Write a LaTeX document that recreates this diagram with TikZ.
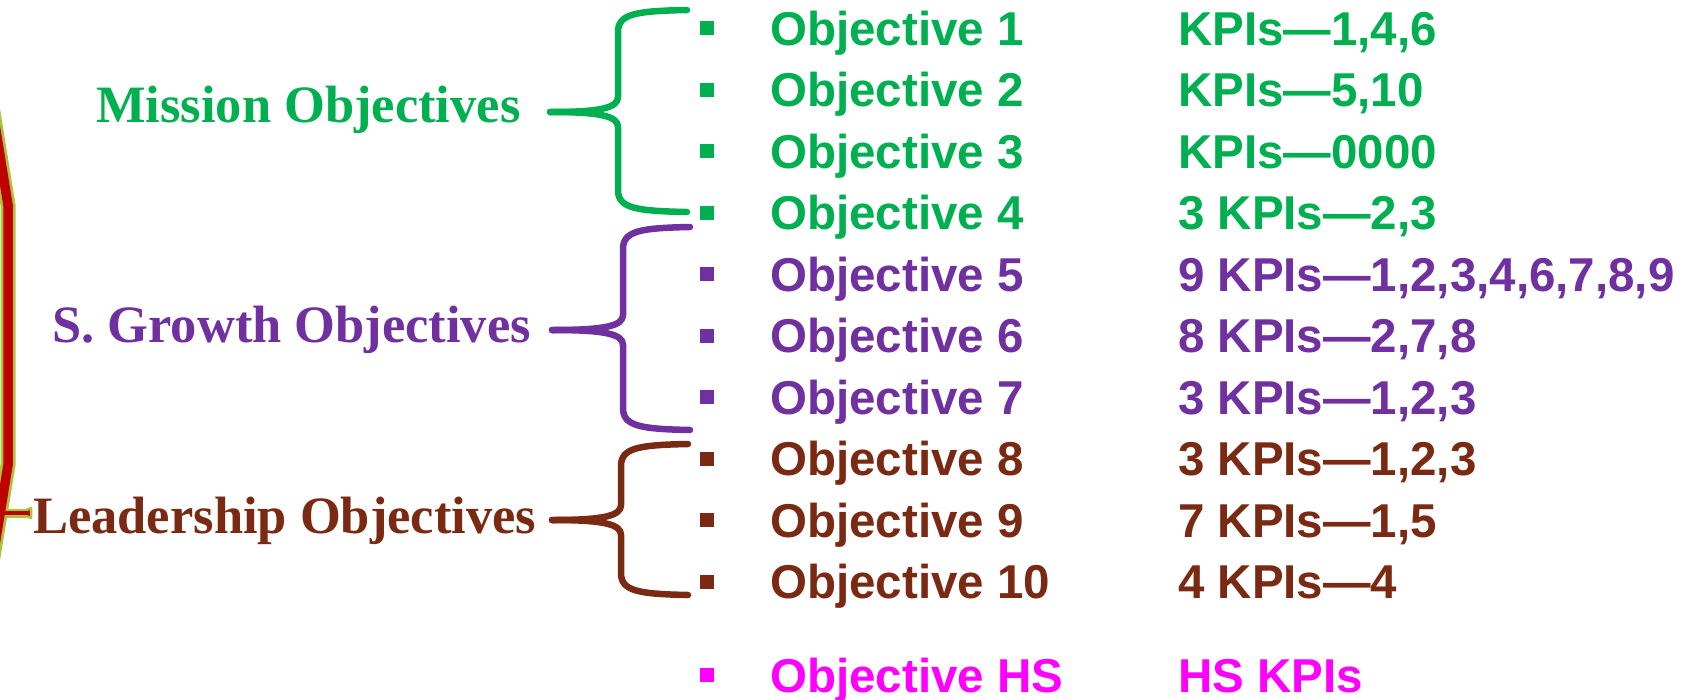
\documentclass[tikz,border=0pt]{standalone}
\usepackage{fontspec}
\setmainfont{Liberation Serif}
\newfontfamily\objfont{Liberation Sans}
\definecolor{mgreen}{RGB}{0,176,80}
\definecolor{mpurple}{RGB}{112,48,160}
\definecolor{mbrown}{RGB}{122,42,18}
\definecolor{mmag}{RGB}{255,0,255}
\definecolor{bred}{RGB}{192,0,0}
\definecolor{bgreen}{RGB}{170,196,60}
\newcommand\drawbrace[7]{% color, xend, ytop, xvert, ymid, xtip, ybot
  \draw[bracestroke,#1] (#2,#3) .. controls ({#4+17},{#3+1}) and (#4,{#3+4}) .. (#4,{#3+22})
     -- (#4,{#5-15}) .. controls (#4,{#5-4}) and ({#4-18},#5) .. (#6,#5);
  \draw[bracestroke,#1] (#6,#5) .. controls ({#4-18},#5) and (#4,{#5+4}) .. (#4,{#5+15})
     -- (#4,{#7-22}) .. controls (#4,{#7-4}) and ({#4+17},{#7-1}) .. (#2,#7);
}
\begin{document}
\begin{tikzpicture}[x=1pt,y=-1pt,
  grouplabel/.style={inner sep=0pt, anchor=base west, font=\fontsize{52.5}{52.5}\selectfont\bfseries},
  rowtext/.style={inner sep=0pt, anchor=base west, font=\objfont\fontsize{47.5}{47.5}\selectfont\bfseries},
  sqbullet/.style={inner sep=0pt, minimum size=14pt, fill, draw=none, rectangle},
  bracestroke/.style={line width=6.5pt, line cap=round, line join=round},
]
\useasboundingbox (0,0) rectangle (1685,699);

% big left line
\draw[line width=15pt, bgreen, line join=miter] (-30,-30) -- (8,205) -- (8,465) -- (-14,600);
\draw[line width=9pt, bgreen] (2,513) -- (26,513);
\draw[fill=bred, draw=bgreen, line width=2.5pt, line join=round] (19,513) -- (31,508) -- (31,518) -- cycle;
\draw[line width=4.5pt, bred] (2,513) -- (27,513);
\draw[line width=9.5pt, bred, line join=miter] (-30,-30) -- (8,205) -- (8,465) -- (-14,600);

% group labels
\node[grouplabel, mgreen] (mis) at (96,122) {Mission Objectives};
\node[grouplabel, mpurple] (sg) at (52,342) {S. Growth Objectives};
\node[grouplabel, mbrown] (lead) at (33,533) {Leadership Objectives};

% braces
\drawbrace{mgreen}{687}{10}{618}{112}{550}{212}
\drawbrace{mpurple}{690}{227}{623}{330}{552}{430}
\drawbrace{mbrown}{688}{444}{621}{520}{552}{595}

% rows
\node[sqbullet, mgreen] (b1) at (707,28) {};
\node[rowtext, mgreen] (o1) at (770,45) {Objective 1};
\node[rowtext, mgreen] (k1) at (1178,45) {KPIs—1,4,6};
\node[sqbullet, mgreen] (b2) at (707,89.5) {};
\node[rowtext, mgreen] (o2) at (770,106.5) {Objective 2};
\node[rowtext, mgreen] (k2) at (1178,106.5) {KPIs—5,10};
\node[sqbullet, mgreen] (b3) at (707,151) {};
\node[rowtext, mgreen] (o3) at (770,168) {Objective 3};
\node[rowtext, mgreen] (k3) at (1178,168) {KPIs—0000};
\node[sqbullet, mgreen] (b4) at (707,212.5) {};
\node[rowtext, mgreen] (o4) at (770,229.5) {Objective 4};
\node[rowtext, mgreen] (k4) at (1178,229.5) {3 KPIs—2,3};

\node[sqbullet, mpurple] (b5) at (707,274) {};
\node[rowtext, mpurple] (o5) at (770,291) {Objective 5};
\node[rowtext, mpurple] (k5) at (1178,291) {9 KPIs—1,2,3,4,6,7,8,9};
\node[sqbullet, mpurple] (b6) at (707,335.5) {};
\node[rowtext, mpurple] (o6) at (770,352.5) {Objective 6};
\node[rowtext, mpurple] (k6) at (1178,352.5) {8 KPIs—2,7,8};
\node[sqbullet, mpurple] (b7) at (707,397) {};
\node[rowtext, mpurple] (o7) at (770,414) {Objective 7};
\node[rowtext, mpurple] (k7) at (1178,414) {3 KPIs—1,2,3};

\node[sqbullet, mbrown] (b8) at (707,458.5) {};
\node[rowtext, mbrown] (o8) at (770,475.5) {Objective 8};
\node[rowtext, mbrown] (k8) at (1178,475.5) {3 KPIs—1,2,3};
\node[sqbullet, mbrown] (b9) at (707,520) {};
\node[rowtext, mbrown] (o9) at (770,537) {Objective 9};
\node[rowtext, mbrown] (k9) at (1178,537) {7 KPIs—1,5};
\node[sqbullet, mbrown] (b10) at (707,581.5) {};
\node[rowtext, mbrown] (o10) at (770,598.5) {Objective 10};
\node[rowtext, mbrown] (k10) at (1178,598.5) {4 KPIs—4};

\node[sqbullet, mmag] (bhs) at (707,675) {};
\node[rowtext, mmag] (ohs) at (770,692) {Objective HS};
\node[rowtext, mmag] (khs) at (1178,692) {HS KPIs};
\end{tikzpicture}
\end{document}
